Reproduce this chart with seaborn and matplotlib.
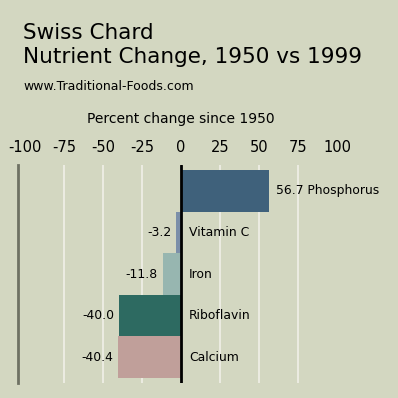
import matplotlib
matplotlib.use("Agg")
import matplotlib.pyplot as plt
import seaborn as sns
import pandas as pd

# data
nutrients = ["Phosphorus", "Vitamin C", "Iron", "Riboflavin", "Calcium"]
pct_change = [56.7, -3.2, -11.8, -40.0, -40.4]
bar_colors = ["#3f617b", "#7b8fa9", "#97b6b0", "#2d6a61", "#c09f9a"]
tick_vals = [-100, -75, -50, -25, 0, 25, 50, 75, 100]

title_lines = ["Swiss Chard", "Nutrient Change, 1950 vs 1999"]
source = "www.Traditional-Foods.com"
axis_label = "Percent change since 1950"

bg = "#d3d7c1"

sns.set_style("white")
plt.rcParams["font.family"] = ["DejaVu Sans"]
plt.rcParams["axes.unicode_minus"] = False
plt.rcParams["text.color"] = "black"
plt.rcParams["xtick.color"] = "black"

df = pd.DataFrame({"nutrient": nutrients, "change": pct_change})

fig = plt.figure(figsize=(3.98, 3.98), dpi=100, facecolor=bg)
W, H = 398, 398
# axes box in pixels: x 18..398, y 165..383
ax = fig.add_axes([18 / W, 1 - 383 / H, 380 / W, 218 / H])
ax.set_facecolor(bg)

sns.barplot(data=df, y="nutrient", x="change", hue="nutrient",
            palette=bar_colors, orient="h", width=1.0, legend=False,
            saturation=1, edgecolor="none", linewidth=0, ax=ax)

ax.set_xlim(-104.5, 139.1)
ax.set_ylim(4.62, -0.62)

# gridlines between the ends
for t in tick_vals:
    if t not in (-100, 0, 100):
        ax.axvline(t, color="#f0f0e8", lw=1.2, zorder=0)
ax.axvline(0, color="black", lw=2, zorder=3)

for s in ["top", "right", "bottom"]:
    ax.spines[s].set_visible(False)
ax.spines["left"].set_color("#6e7163")
ax.spines["left"].set_linewidth(2)

ax.xaxis.tick_top()
ax.set_xticks(tick_vals)
ax.set_xticklabels([str(t) for t in tick_vals], fontsize=10.5)
ax.tick_params(axis="x", length=0, pad=7)
ax.set_yticks([])
ax.set_xlabel("")
ax.set_ylabel("")

for i, (name, v) in enumerate(zip(nutrients, pct_change)):
    if v >= 0:
        ax.text(v + 4, i, f"{v:.1f} {name}", ha="left", va="center", fontsize=8.9)
    else:
        ax.text(v - 3, i, f"{v:.1f}", ha="right", va="center", fontsize=8.9)
        ax.text(5, i, name, ha="left", va="center", fontsize=8.9)

fig.text(23 / W, 1 - 39 / H, title_lines[0], ha="left", va="baseline", fontsize=15.5)
fig.text(23 / W, 1 - 63 / H, title_lines[1], ha="left", va="baseline", fontsize=15.5)
fig.text(23 / W, 1 - 90 / H, source, ha="left", va="baseline", fontsize=9.0)
fig.text(181 / W, 1 - 123 / H, axis_label, ha="center", va="baseline", fontsize=10)

fig.savefig("out.png", dpi=100, facecolor=bg)
